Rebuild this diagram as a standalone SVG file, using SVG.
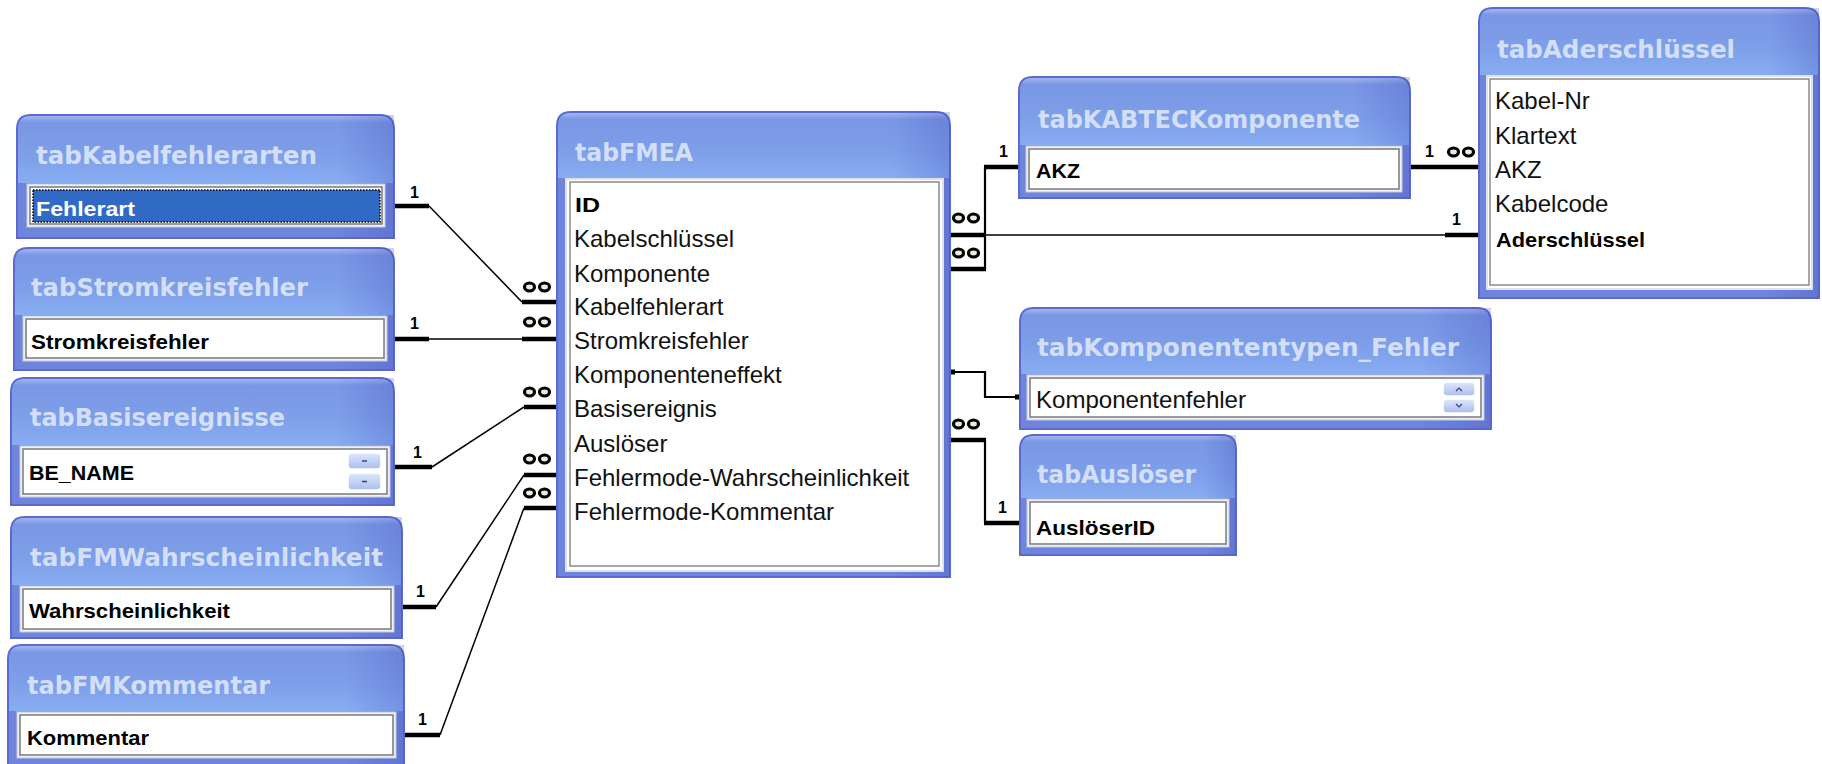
<svg xmlns="http://www.w3.org/2000/svg" width="1822" height="764" viewBox="0 0 1822 764">
  <defs>
    <linearGradient id="titleGrad" x1="0" y1="0" x2="0" y2="1">
      <stop offset="0" stop-color="#9fb6ef"/>
      <stop offset="0.1" stop-color="#7a96e4"/>
      <stop offset="0.6" stop-color="#7e9fe9"/>
      <stop offset="1" stop-color="#88adf2"/>
    </linearGradient>
    <linearGradient id="sideShade" x1="0" y1="0" x2="1" y2="0">
      <stop offset="0" stop-color="#3c48b8" stop-opacity="0"/>
      <stop offset="0.85" stop-color="#3c48b8" stop-opacity="0"/>
      <stop offset="1" stop-color="#3c48b8" stop-opacity="0.25"/>
    </linearGradient>
    <linearGradient id="spinGrad" x1="0" y1="0" x2="0" y2="1">
      <stop offset="0" stop-color="#dfe8fb"/>
      <stop offset="1" stop-color="#a9bdee"/>
    </linearGradient>
    <!-- "many" end of a relationship -->
    <g id="many">
      <ellipse cx="-7.5" cy="0" rx="5" ry="4" fill="#ecebdc" stroke="#000" stroke-width="3.2"/>
      <ellipse cx="7.5" cy="0" rx="5" ry="4" fill="#ecebdc" stroke="#000" stroke-width="3.2"/>
    </g>
  </defs>
  <style>
    .box { fill: #6f84db; stroke: #5d69cf; stroke-width: 2; }
    .ttl { fill: url(#titleGrad); }
    .shade { fill: url(#sideShade); }
    .title { font-family: "DejaVu Sans", "Liberation Sans", sans-serif; font-weight: bold; font-size: 24px; fill: #d3dff8; }
    .frame { fill: #eef0f4; stroke: #c4cbe4; stroke-width: 1; }
    .field { fill: #ffffff; stroke: #7a7a7a; stroke-width: 1.5; }
    .row { font-family: "Liberation Sans", Arial, sans-serif; font-size: 24px; fill: #111; }
    .key { font-family: "Liberation Sans", Arial, sans-serif; font-weight: bold; font-size: 21px; fill: #000; }
    .sel { fill: #316ac5; stroke: #000; stroke-width: 1.5; stroke-dasharray: 1.5 1.5; }
    .spin { fill: url(#spinGrad); stroke: #ffffff; stroke-width: 1.5; }
    .card { font-family: "Liberation Sans", Arial, sans-serif; font-weight: bold; font-size: 16px; fill: #000; }
    .thick { stroke: #000; stroke-width: 4.5; fill: none; }
    .thin { stroke: #000; stroke-width: 1.5; fill: none; }
    .mid { stroke: #000; stroke-width: 2.2; fill: none; }
  </style>

  <rect width="1822" height="764" fill="#ffffff"/>

  <!-- connectors -->
  <g id="connectors">
    <!-- tabKabelfehlerarten -> tabFMEA.Kabelfehlerart -->
    <line class="thick" x1="394" y1="206" x2="429" y2="206"/>
    <line class="thin" x1="429" y1="206" x2="522" y2="302"/>
    <line class="thick" x1="522" y1="302" x2="557" y2="302"/>
    <text class="card" x="410" y="198">1</text>
    <use href="#many" x="537" y="287"/>

    <!-- tabStromkreisfehler -> tabFMEA.Stromkreisfehler -->
    <line class="thick" x1="394" y1="339" x2="429" y2="339"/>
    <line class="thin" x1="429" y1="339" x2="522" y2="339"/>
    <line class="thick" x1="522" y1="339" x2="557" y2="339"/>
    <text class="card" x="410" y="329">1</text>
    <use href="#many" x="537" y="322"/>

    <!-- tabBasisereignisse -> tabFMEA.Basisereignis -->
    <line class="thick" x1="394" y1="467" x2="432" y2="467"/>
    <line class="thin" x1="432" y1="467" x2="524" y2="407"/>
    <line class="thick" x1="524" y1="407" x2="557" y2="407"/>
    <text class="card" x="413" y="458">1</text>
    <use href="#many" x="537" y="392"/>

    <!-- tabFMWahrscheinlichkeit -> tabFMEA.Fehlermode-Wahrscheinlichkeit -->
    <line class="thick" x1="402" y1="607" x2="436" y2="607"/>
    <line class="thin" x1="436" y1="607" x2="524" y2="475"/>
    <line class="thick" x1="524" y1="475" x2="557" y2="475"/>
    <text class="card" x="416" y="597">1</text>
    <use href="#many" x="537" y="459"/>

    <!-- tabFMKommentar -> tabFMEA.Fehlermode-Kommentar -->
    <line class="thick" x1="404" y1="735" x2="440" y2="735"/>
    <line class="thin" x1="440" y1="735" x2="524" y2="508"/>
    <line class="thick" x1="524" y1="508" x2="557" y2="508"/>
    <text class="card" x="418" y="725">1</text>
    <use href="#many" x="537" y="493"/>

    <!-- tabFMEA.Komponente -> tabKABTECKomponente.AKZ -->
    <line class="thick" x1="950" y1="269" x2="986" y2="269"/>
    <polyline class="mid" points="985,269 985,167"/>
    <line class="thick" x1="984" y1="167" x2="1019" y2="167"/>
    <text class="card" x="999" y="157">1</text>
    <use href="#many" x="966" y="253"/>

    <!-- tabFMEA.Kabelschlüssel -> tabAderschlüssel.Aderschlüssel -->
    <line class="thick" x1="950" y1="235" x2="985" y2="235"/>
    <line class="thin" x1="985" y1="235" x2="1445" y2="235"/>
    <line class="thick" x1="1445" y1="235" x2="1479" y2="235"/>
    <text class="card" x="1452" y="225">1</text>
    <use href="#many" x="966" y="218"/>

    <!-- tabKABTECKomponente.AKZ -> tabAderschlüssel.AKZ -->
    <line class="thick" x1="1410" y1="167" x2="1479" y2="167"/>
    <text class="card" x="1425" y="157">1</text>
    <use href="#many" x="1461" y="152"/>

    <!-- tabFMEA.Komponenteneffekt -> tabKomponententypen_Fehler.Komponentenfehler -->
    <polyline class="mid" points="950,372 985,372 985,397 1020,397"/>
    <rect x="950" y="369.5" width="5" height="5" fill="#000"/>
    <rect x="1015" y="394.5" width="5" height="5" fill="#000"/>

    <!-- tabFMEA.Auslöser -> tabAuslöser.AuslöserID -->
    <line class="thick" x1="950" y1="440" x2="986" y2="440"/>
    <polyline class="mid" points="985,440 985,523"/>
    <line class="thick" x1="984" y1="523" x2="1020" y2="523"/>
    <text class="card" x="998" y="513">1</text>
    <use href="#many" x="966" y="424"/>
  </g>

  <!-- tabKabelfehlerarten -->
  <g id="tabKabelfehlerarten">
    <path class="box" d="M17,129 Q17,115 31,115 H380 Q394,115 394,129 V238 H17 Z"/>
    <path class="ttl" d="M18,129 Q18,116 31,116 H380 Q393,116 393,129 V183 H18 Z"/>
    <rect class="shade" x="17" y="115" width="377" height="123"/>
    <text class="title" x="36" y="164" textLength="281" lengthAdjust="spacingAndGlyphs">tabKabelfehlerarten</text>
    <rect class="frame" x="27" y="184" width="358" height="43"/>
    <rect class="field" x="30" y="187" width="352" height="37"/>
    <rect class="sel" x="33" y="190" width="347" height="32"/>
    <text class="key" x="36" y="216" textLength="99" lengthAdjust="spacingAndGlyphs" style="fill:#ffffff">Fehlerart</text>
  </g>

  <!-- tabStromkreisfehler -->
  <g id="tabStromkreisfehler">
    <path class="box" d="M14,262 Q14,248 28,248 H380 Q394,248 394,262 V370 H14 Z"/>
    <path class="ttl" d="M15,262 Q15,249 28,249 H380 Q393,249 393,262 V315 H15 Z"/>
    <rect class="shade" x="14" y="248" width="380" height="122"/>
    <text class="title" x="31" y="296" textLength="277" lengthAdjust="spacingAndGlyphs">tabStromkreisfehler</text>
    <rect class="frame" x="23" y="316" width="364" height="45"/>
    <rect class="field" x="26" y="319" width="358" height="39"/>
    <text class="key" x="31" y="349" textLength="178" lengthAdjust="spacingAndGlyphs">Stromkreisfehler</text>
  </g>

  <!-- tabBasisereignisse -->
  <g id="tabBasisereignisse">
    <path class="box" d="M11,392 Q11,378 25,378 H380 Q394,378 394,392 V505 H11 Z"/>
    <path class="ttl" d="M12,392 Q12,379 25,379 H380 Q393,379 393,392 V445 H12 Z"/>
    <rect class="shade" x="11" y="378" width="383" height="127"/>
    <text class="title" x="30" y="426" textLength="255" lengthAdjust="spacingAndGlyphs">tabBasisereignisse</text>
    <rect class="frame" x="20" y="446" width="370" height="51"/>
    <rect class="field" x="23" y="449" width="364" height="45"/>
    <text class="key" x="29" y="480" textLength="105" lengthAdjust="spacingAndGlyphs">BE_NAME</text>
    <rect class="spin" x="348" y="453" width="33" height="16" rx="4"/>
    <rect class="spin" x="348" y="473" width="33" height="17" rx="4"/>
    <line x1="362" y1="461" x2="367" y2="461" stroke="#34408a" stroke-width="1.5"/>
    <line x1="362" y1="481.5" x2="367" y2="481.5" stroke="#34408a" stroke-width="1.5"/>
  </g>

  <!-- tabFMWahrscheinlichkeit -->
  <g id="tabFMWahrscheinlichkeit">
    <path class="box" d="M11,531 Q11,517 25,517 H388 Q402,517 402,531 V638 H11 Z"/>
    <path class="ttl" d="M12,531 Q12,518 25,518 H388 Q401,518 401,531 V585 H12 Z"/>
    <rect class="shade" x="11" y="517" width="391" height="121"/>
    <text class="title" x="30" y="566" textLength="353" lengthAdjust="spacingAndGlyphs">tabFMWahrscheinlichkeit</text>
    <rect class="frame" x="20" y="586" width="374" height="46"/>
    <rect class="field" x="23" y="589" width="368" height="40"/>
    <text class="key" x="29" y="618" textLength="201" lengthAdjust="spacingAndGlyphs">Wahrscheinlichkeit</text>
  </g>

  <!-- tabFMKommentar -->
  <g id="tabFMKommentar">
    <path class="box" d="M8,659 Q8,645 22,645 H390 Q404,645 404,659 V780 H8 Z"/>
    <path class="ttl" d="M9,659 Q9,646 22,646 H390 Q403,646 403,659 V711 H9 Z"/>
    <rect class="shade" x="8" y="645" width="396" height="135"/>
    <text class="title" x="27" y="694" textLength="243" lengthAdjust="spacingAndGlyphs">tabFMKommentar</text>
    <rect class="frame" x="17" y="712" width="379" height="46"/>
    <rect class="field" x="20" y="715" width="373" height="40"/>
    <text class="key" x="27" y="745" textLength="122" lengthAdjust="spacingAndGlyphs">Kommentar</text>
  </g>

  <!-- tabFMEA -->
  <g id="tabFMEA">
    <path class="box" d="M557,126 Q557,112 571,112 H936 Q950,112 950,126 V577 H557 Z"/>
    <path class="ttl" d="M558,126 Q558,113 571,113 H936 Q949,113 949,126 V178 H558 Z"/>
    <rect class="shade" x="557" y="112" width="393" height="465"/>
    <text class="title" x="575" y="161" textLength="118" lengthAdjust="spacingAndGlyphs">tabFMEA</text>
    <rect x="566" y="179" width="377" height="392" fill="#ffffff" stroke="#dfe2ee" stroke-width="2"/>
    <rect x="570" y="182" width="369" height="384" fill="#ffffff" stroke="#8a8a8a" stroke-width="1.5"/>
    <text class="key" x="575" y="212" textLength="25" lengthAdjust="spacingAndGlyphs">ID</text>
    <text class="row" x="574" y="247">Kabelschlüssel</text>
    <text class="row" x="574" y="282">Komponente</text>
    <text class="row" x="574" y="315">Kabelfehlerart</text>
    <text class="row" x="574" y="349">Stromkreisfehler</text>
    <text class="row" x="574" y="383">Komponenteneffekt</text>
    <text class="row" x="574" y="417">Basisereignis</text>
    <text class="row" x="574" y="452">Auslöser</text>
    <text class="row" x="574" y="486">Fehlermode-Wahrscheinlichkeit</text>
    <text class="row" x="574" y="520">Fehlermode-Kommentar</text>
  </g>

  <!-- tabKABTECKomponente -->
  <g id="tabKABTECKomponente">
    <path class="box" d="M1019,91 Q1019,77 1033,77 H1396 Q1410,77 1410,91 V198 H1019 Z"/>
    <path class="ttl" d="M1020,91 Q1020,78 1033,78 H1396 Q1409,78 1409,91 V145 H1020 Z"/>
    <rect class="shade" x="1019" y="77" width="391" height="121"/>
    <text class="title" x="1038" y="128" textLength="322" lengthAdjust="spacingAndGlyphs">tabKABTECKomponente</text>
    <rect class="frame" x="1026" y="146" width="376" height="46"/>
    <rect class="field" x="1029" y="149" width="370" height="40"/>
    <text class="key" x="1036" y="178" textLength="44" lengthAdjust="spacingAndGlyphs">AKZ</text>
  </g>

  <!-- tabAderschlüssel -->
  <g id="tabAderschluessel">
    <path class="box" d="M1479,22 Q1479,8 1493,8 H1805 Q1819,8 1819,22 V298 H1479 Z"/>
    <path class="ttl" d="M1480,22 Q1480,9 1493,9 H1805 Q1818,9 1818,22 V75 H1480 Z"/>
    <rect class="shade" x="1479" y="8" width="340" height="290"/>
    <text class="title" x="1497" y="58" textLength="238" lengthAdjust="spacingAndGlyphs">tabAderschlüssel</text>
    <rect x="1487" y="76" width="325" height="213" fill="#ffffff" stroke="#dfe2ee" stroke-width="2"/>
    <rect x="1490" y="79" width="319" height="206" fill="#ffffff" stroke="#8a8a8a" stroke-width="1.5"/>
    <text class="row" x="1495" y="109">Kabel-Nr</text>
    <text class="row" x="1495" y="144">Klartext</text>
    <text class="row" x="1495" y="178">AKZ</text>
    <text class="row" x="1495" y="212">Kabelcode</text>
    <text class="key" x="1496" y="247" textLength="149" lengthAdjust="spacingAndGlyphs">Aderschlüssel</text>
  </g>

  <!-- tabKomponententypen_Fehler -->
  <g id="tabKomponententypen_Fehler">
    <path class="box" d="M1020,322 Q1020,308 1034,308 H1477 Q1491,308 1491,322 V429 H1020 Z"/>
    <path class="ttl" d="M1021,322 Q1021,309 1034,309 H1477 Q1490,309 1490,322 V374 H1021 Z"/>
    <rect class="shade" x="1020" y="308" width="471" height="121"/>
    <text class="title" x="1037" y="356" textLength="422" lengthAdjust="spacingAndGlyphs">tabKomponententypen_Fehler</text>
    <rect class="frame" x="1027" y="375" width="457" height="45"/>
    <rect class="field" x="1030" y="378" width="451" height="39"/>
    <text class="row" x="1036" y="408" textLength="210" lengthAdjust="spacingAndGlyphs">Komponentenfehler</text>
    <rect class="spin" x="1443" y="382" width="32" height="14" rx="4"/>
    <rect class="spin" x="1443" y="399" width="32" height="14" rx="4"/>
    <polyline points="1456,391 1459,388 1462,391" fill="none" stroke="#34408a" stroke-width="1.2"/>
    <polyline points="1456,404 1459,407 1462,404" fill="none" stroke="#34408a" stroke-width="1.2"/>
  </g>

  <!-- tabAuslöser -->
  <g id="tabAusloeser">
    <path class="box" d="M1020,449 Q1020,435 1034,435 H1222 Q1236,435 1236,449 V555 H1020 Z"/>
    <path class="ttl" d="M1021,449 Q1021,436 1034,436 H1222 Q1235,436 1235,449 V498 H1021 Z"/>
    <rect class="shade" x="1020" y="435" width="216" height="120"/>
    <text class="title" x="1037" y="483" textLength="159" lengthAdjust="spacingAndGlyphs">tabAuslöser</text>
    <rect class="frame" x="1027" y="499" width="202" height="48"/>
    <rect class="field" x="1030" y="502" width="196" height="42"/>
    <text class="key" x="1036" y="535" textLength="119" lengthAdjust="spacingAndGlyphs">AuslöserID</text>
  </g>
</svg>
